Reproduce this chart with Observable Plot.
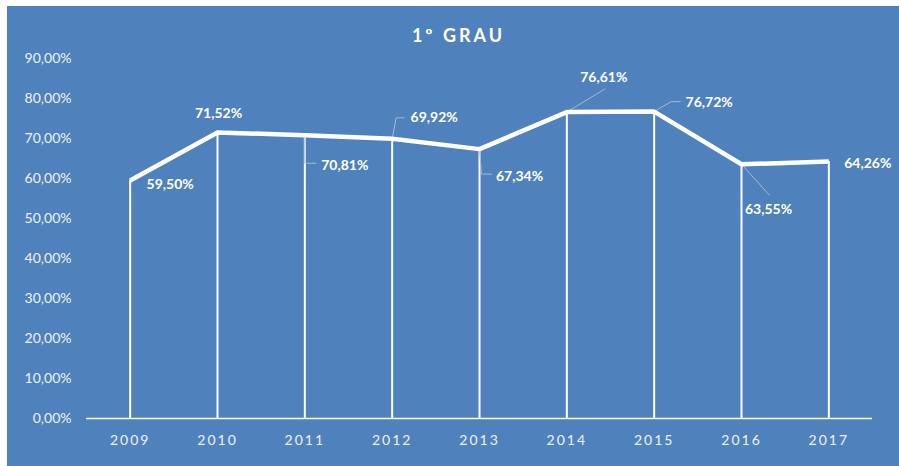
<!DOCTYPE html>
<html><head><meta charset="utf-8">
<script src="https://cdn.jsdelivr.net/npm/d3@7"></script>
<script src="https://cdn.jsdelivr.net/npm/@observablehq/plot@0.6"></script>
<style>
html,body{margin:0;padding:0;background:#fff;}
#wrap{position:relative;width:899px;height:466px;overflow:hidden;background:#fff;font-family:Lato,"Open Sans",sans-serif;}
#panel{position:absolute;left:7px;top:6px;width:892px;height:460px;background:#4F81BD;}
#title{position:absolute;left:0;top:24px;width:914px;text-align:center;color:#fff;font-weight:bold;font-size:18px;line-height:22px;letter-spacing:3px;padding-left:3px;box-sizing:border-box;}
#chart{position:absolute;left:0;top:0;}
#chart g[aria-label="x-axis tick label"] text, #chart g[aria-label="x-axis"] text{letter-spacing:2px;}
</style>
</head><body>
<div id="wrap"><div id="panel"></div><div id="title"></div><div id="chart"></div></div>
<script>
// ---- data ----
const chartTitle = "1º GRAU";
const years = [2009, 2010, 2011, 2012, 2013, 2014, 2015, 2016, 2017];
const values = [59.50, 71.52, 70.81, 69.92, 67.34, 76.61, 76.72, 63.55, 64.26];
const yTicks = [0, 10, 20, 30, 40, 50, 60, 70, 80, 90];

// ---- label layout (pixel offsets from each point) ----
const labelOffsets = [[40,4],[1,-19],[40,30],[42,-21],[40,27],[37,-35],[55,-9],[27,45],[39,2]];
const leaderOffsets = [null, null, [[0,0],[0,28],[11,28]], [[0,0],[4,-21],[12,-21]], [[0,0],[2,25],[12,25]],
  [[0,0],[38,-23]], [[0,0],[17,-10],[26,-10]], [[0,0],[28,31]], null];

const W = 899, H = 466, ML = 86, MR = 27, MT = 58, MB = 48;
const xDomain = [years[0] - 0.5, years[years.length - 1] + 0.5];
const yDomain = [0, 90];
const pxPerX = (W - ML - MR) / (xDomain[1] - xDomain[0]);
const pxPerY = (H - MT - MB) / (yDomain[1] - yDomain[0]);

document.getElementById("title").textContent = chartTitle;

const data = years.map((year, i) => ({year, value: values[i]}));
const fmt = v => v.toFixed(2).replace(".", ",") + "%";

const labelMarks = data.map((d, i) => Plot.text([d], {
  x: "year", y: "value", text: p => fmt(p.value),
  dx: labelOffsets[i][0], dy: labelOffsets[i][1],
  fill: "white", fontWeight: "bold", fontSize: 14, textAnchor: "middle"
}));
const leaderMarks = data.filter((d, i) => leaderOffsets[i]).map(d => {
  const i = data.indexOf(d);
  const pts = leaderOffsets[i].map(([ox, oy]) => ({x: d.year + ox / pxPerX, y: d.value - oy / pxPerY}));
  return Plot.line(pts, {x: "x", y: "y", stroke: "#a9b9cf", strokeWidth: 1, curve: "linear"});
});

const plot = Plot.plot({
  width: W, height: H,
  marginLeft: ML, marginRight: MR, marginTop: MT, marginBottom: MB,
  style: {background: "transparent", color: "#eef2f7", fontFamily: "Lato, 'Open Sans', sans-serif", fontSize: "14px"},
  x: {type: "linear", domain: xDomain, ticks: years, tickFormat: d => String(d), tickSize: 0, tickPadding: 17, label: null},
  y: {domain: yDomain, ticks: yTicks, tickFormat: d => fmt(d), tickSize: 0, tickPadding: 15, label: null},
  marks: [
    Plot.ruleX(data, {x: "year", y1: 0, y2: "value", stroke: "white", strokeWidth: 2}),
    Plot.ruleY([0], {stroke: "white", strokeWidth: 1.7}),
    ...leaderMarks,
    Plot.line(data, {x: "year", y: "value", stroke: "white", strokeWidth: 4.5, strokeLinejoin: "miter", strokeLinecap: "butt"}),
    ...labelMarks
  ]
});
document.getElementById("chart").appendChild(plot);
</script>
</body></html>
